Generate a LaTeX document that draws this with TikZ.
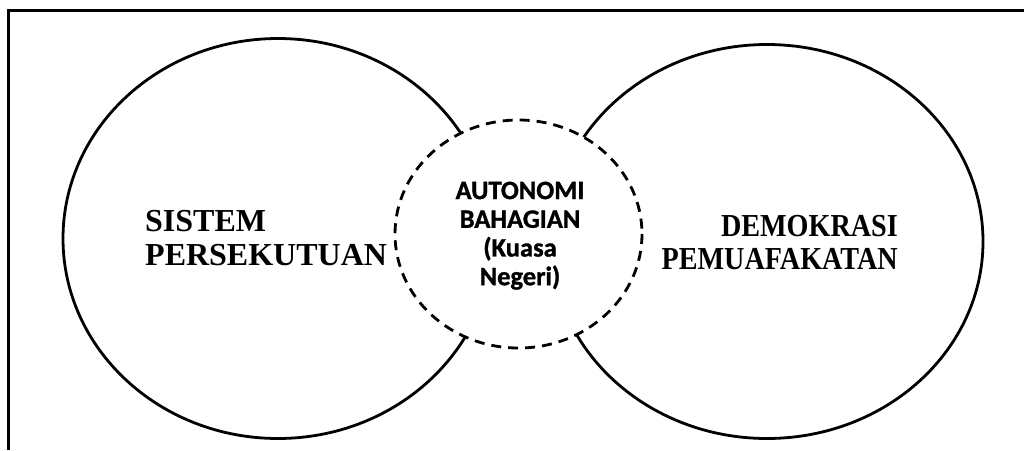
\documentclass[tikz,border=0pt]{standalone}
\usepackage{fontspec}
\setmainfont{Liberation Serif}
\newfontfamily\condserif{Liberation Serif}[FakeStretch=0.88]
\newfontfamily\labelsans{Carlito Bold}[FakeBold=1.2]
\usetikzlibrary{positioning}
\tikzset{
	set/.style={draw,line width=2.8pt},
	shared/.style={draw,line width=2.8pt,fill=white,dash pattern=on 10pt off 7pt},
	setlabel/.style={inner sep=0pt,font=\fontsize{32}{34}\selectfont\bfseries},
	sharedlabel/.style={inner sep=0pt,align=center,font=\fontsize{26.5}{28.7}\selectfont\labelsans},
	frame/.style={draw,line width=3pt}
}

\begin{document}
\begin{tikzpicture}[x=1pt,y=-1pt]
            \useasboundingbox (0,0) rectangle (1024,450);
            \draw[frame] (8.5,450) -- (8.5,10.5) -- (1024,10.5);
            % the two sets
            \draw[set] (278,238.5) ellipse [x radius=215, y radius=200];
            \draw[set] (767,241.5) ellipse [x radius=216, y radius=197];
            % overlap
            \draw[shared] (518.5,234) ellipse [x radius=123.5, y radius=114];
            \node[setlabel,align=left,anchor=north west] (fed) at (145,210) {SISTEM\\PERSEKUTUAN};
            \node[setlabel,font=\fontsize{32}{33}\selectfont\condserif\bfseries,align=right,anchor=north east] (dem) at (898,215) {DEMOKRASI\\PEMUAFAKATAN};
            \node[sharedlabel,anchor=north] (auto) at (520,181.5) {AUTONOMI\\BAHAGIAN\\(Kuasa\\Negeri)};
        \end{tikzpicture}
\end{document}
